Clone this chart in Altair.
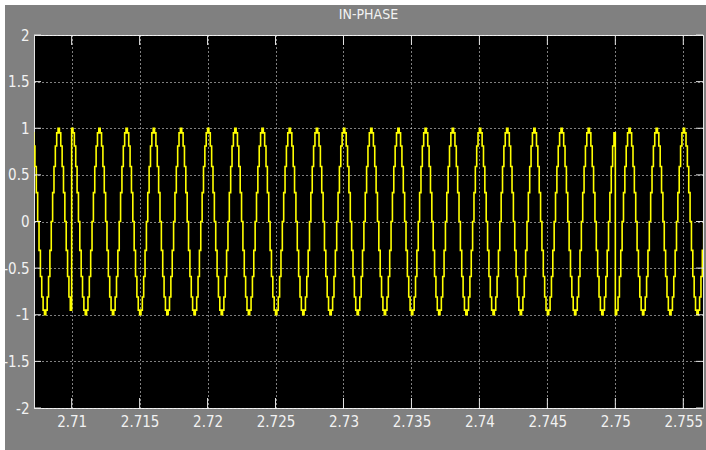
import altair as alt
import pandas as pd

# One carrier cycle of held sample levels, starting at the crest (20 samples per cycle)
cycle_levels = [1.0, 0.95, 0.81, 0.59, 0.31, 0.0, -0.31, -0.59, -0.81, -0.95,
                -1.0, -0.95, -0.81, -0.59, -0.31, 0.0, 0.31, 0.59, 0.81, 0.95]
sample_period = 0.0001          # s, zero-order hold
reference_time = 2.71           # a crest falls on this sample
first_sample = -30              # sample indices relative to reference_time
last_sample = 466
phase_flips = [2.71, 2.75]      # symbol boundaries where the carrier inverts
phase_signs = [-1, 1, -1]

x_ticks = [2.71, 2.715, 2.72, 2.725, 2.73, 2.735, 2.74, 2.745, 2.75, 2.755]
y_ticks = [-2, -1.5, -1, -0.5, 0, 0.5, 1, 1.5, 2]
x_range = [2.70723, 2.75645]
y_range = [-2, 2]

# Held samples of the in-phase carrier
rows = []
for k in range(first_sample, last_sample + 1):
    t = round(reference_time + k * sample_period, 6)
    sign = phase_signs[sum(t >= f for f in phase_flips)]
    rows.append({"t": t, "v": sign * cycle_levels[k % len(cycle_levels)]})
signal_df = pd.DataFrame(rows)
xtick_df = pd.DataFrame({"v": x_ticks})
ytick_df = pd.DataFrame({"v": y_ticks})

W, H = 669, 373
FRAME = "#e6e6e6"
TEXT = "#f2f2f2"
FONT = "Liberation Sans Narrow, DejaVu Sans Condensed, Roboto Condensed, Arial Narrow, sans-serif"

xs = alt.Scale(domain=x_range, nice=False, zero=False)
ys = alt.Scale(domain=y_range, nice=False, zero=False)

axis_common = dict(
    labelExpr="toString(datum.value)", grid=True, gridColor="#ffffff",
    gridDash=[1, 3], gridWidth=1, ticks=False, domain=False,
    labelColor=TEXT, labelFont=FONT, labelFontSize=15,
    labelFlush=False, labelOverlap=False, title="",
)

signal = alt.Chart(signal_df).mark_line(
    interpolate="step-after", color="#ffff00", strokeWidth=1.6, clip=True
).encode(
    x=alt.X("t:Q", scale=xs, axis=alt.Axis(values=x_ticks, labelPadding=6, **axis_common)),
    y=alt.Y("v:Q", scale=ys, axis=alt.Axis(values=y_ticks, labelPadding=5, **axis_common)),
)

# Inward tick marks on all four sides
left_ticks = alt.Chart(ytick_df).mark_rule(color=FRAME, strokeWidth=1).encode(
    y=alt.Y("v:Q", scale=ys, axis=None), x=alt.value(0), x2=alt.value(7))
right_ticks = alt.Chart(ytick_df).mark_rule(color=FRAME, strokeWidth=1).encode(
    y=alt.Y("v:Q", scale=ys, axis=None), x=alt.value(W - 7), x2=alt.value(W))
bottom_ticks = alt.Chart(xtick_df).mark_rule(color=FRAME, strokeWidth=1).encode(
    x=alt.X("v:Q", scale=xs, axis=None), y=alt.value(H - 10), y2=alt.value(H))
top_ticks = alt.Chart(xtick_df).mark_rule(color=FRAME, strokeWidth=1).encode(
    x=alt.X("v:Q", scale=xs, axis=None), y=alt.value(0), y2=alt.value(10))

# Thin white margin along the top and left of the figure window
edge_df = pd.DataFrame({"e": [0]})
left_edge = alt.Chart(edge_df).mark_rect(color="white", clip=False).encode(
    x=alt.value(-34), x2=alt.value(-29), y=alt.value(-35), y2=alt.value(H + 42))
top_edge = alt.Chart(edge_df).mark_rect(color="white", clip=False).encode(
    x=alt.value(-34), x2=alt.value(W + 3), y=alt.value(-35), y2=alt.value(-30))

chart = alt.layer(
    signal, left_ticks, right_ticks, bottom_ticks, top_ticks, left_edge, top_edge
).resolve_axis(
    x="independent", y="independent"
).properties(
    width=W,
    height=H,
    title=alt.TitleParams(
        "IN-PHASE", color=TEXT, font=FONT, fontSize=14, fontWeight="normal",
        anchor="middle", frame="group", offset=-22,
    ),
    autosize=alt.AutoSizeParams(type="none"),
    padding={"left": 34, "top": 35, "right": 3, "bottom": 42},
    background="#808080",
).configure_view(
    fill="black", stroke=FRAME, strokeWidth=1
)

chart.save("out.html", embed_options={"renderer": "svg", "actions": False})
